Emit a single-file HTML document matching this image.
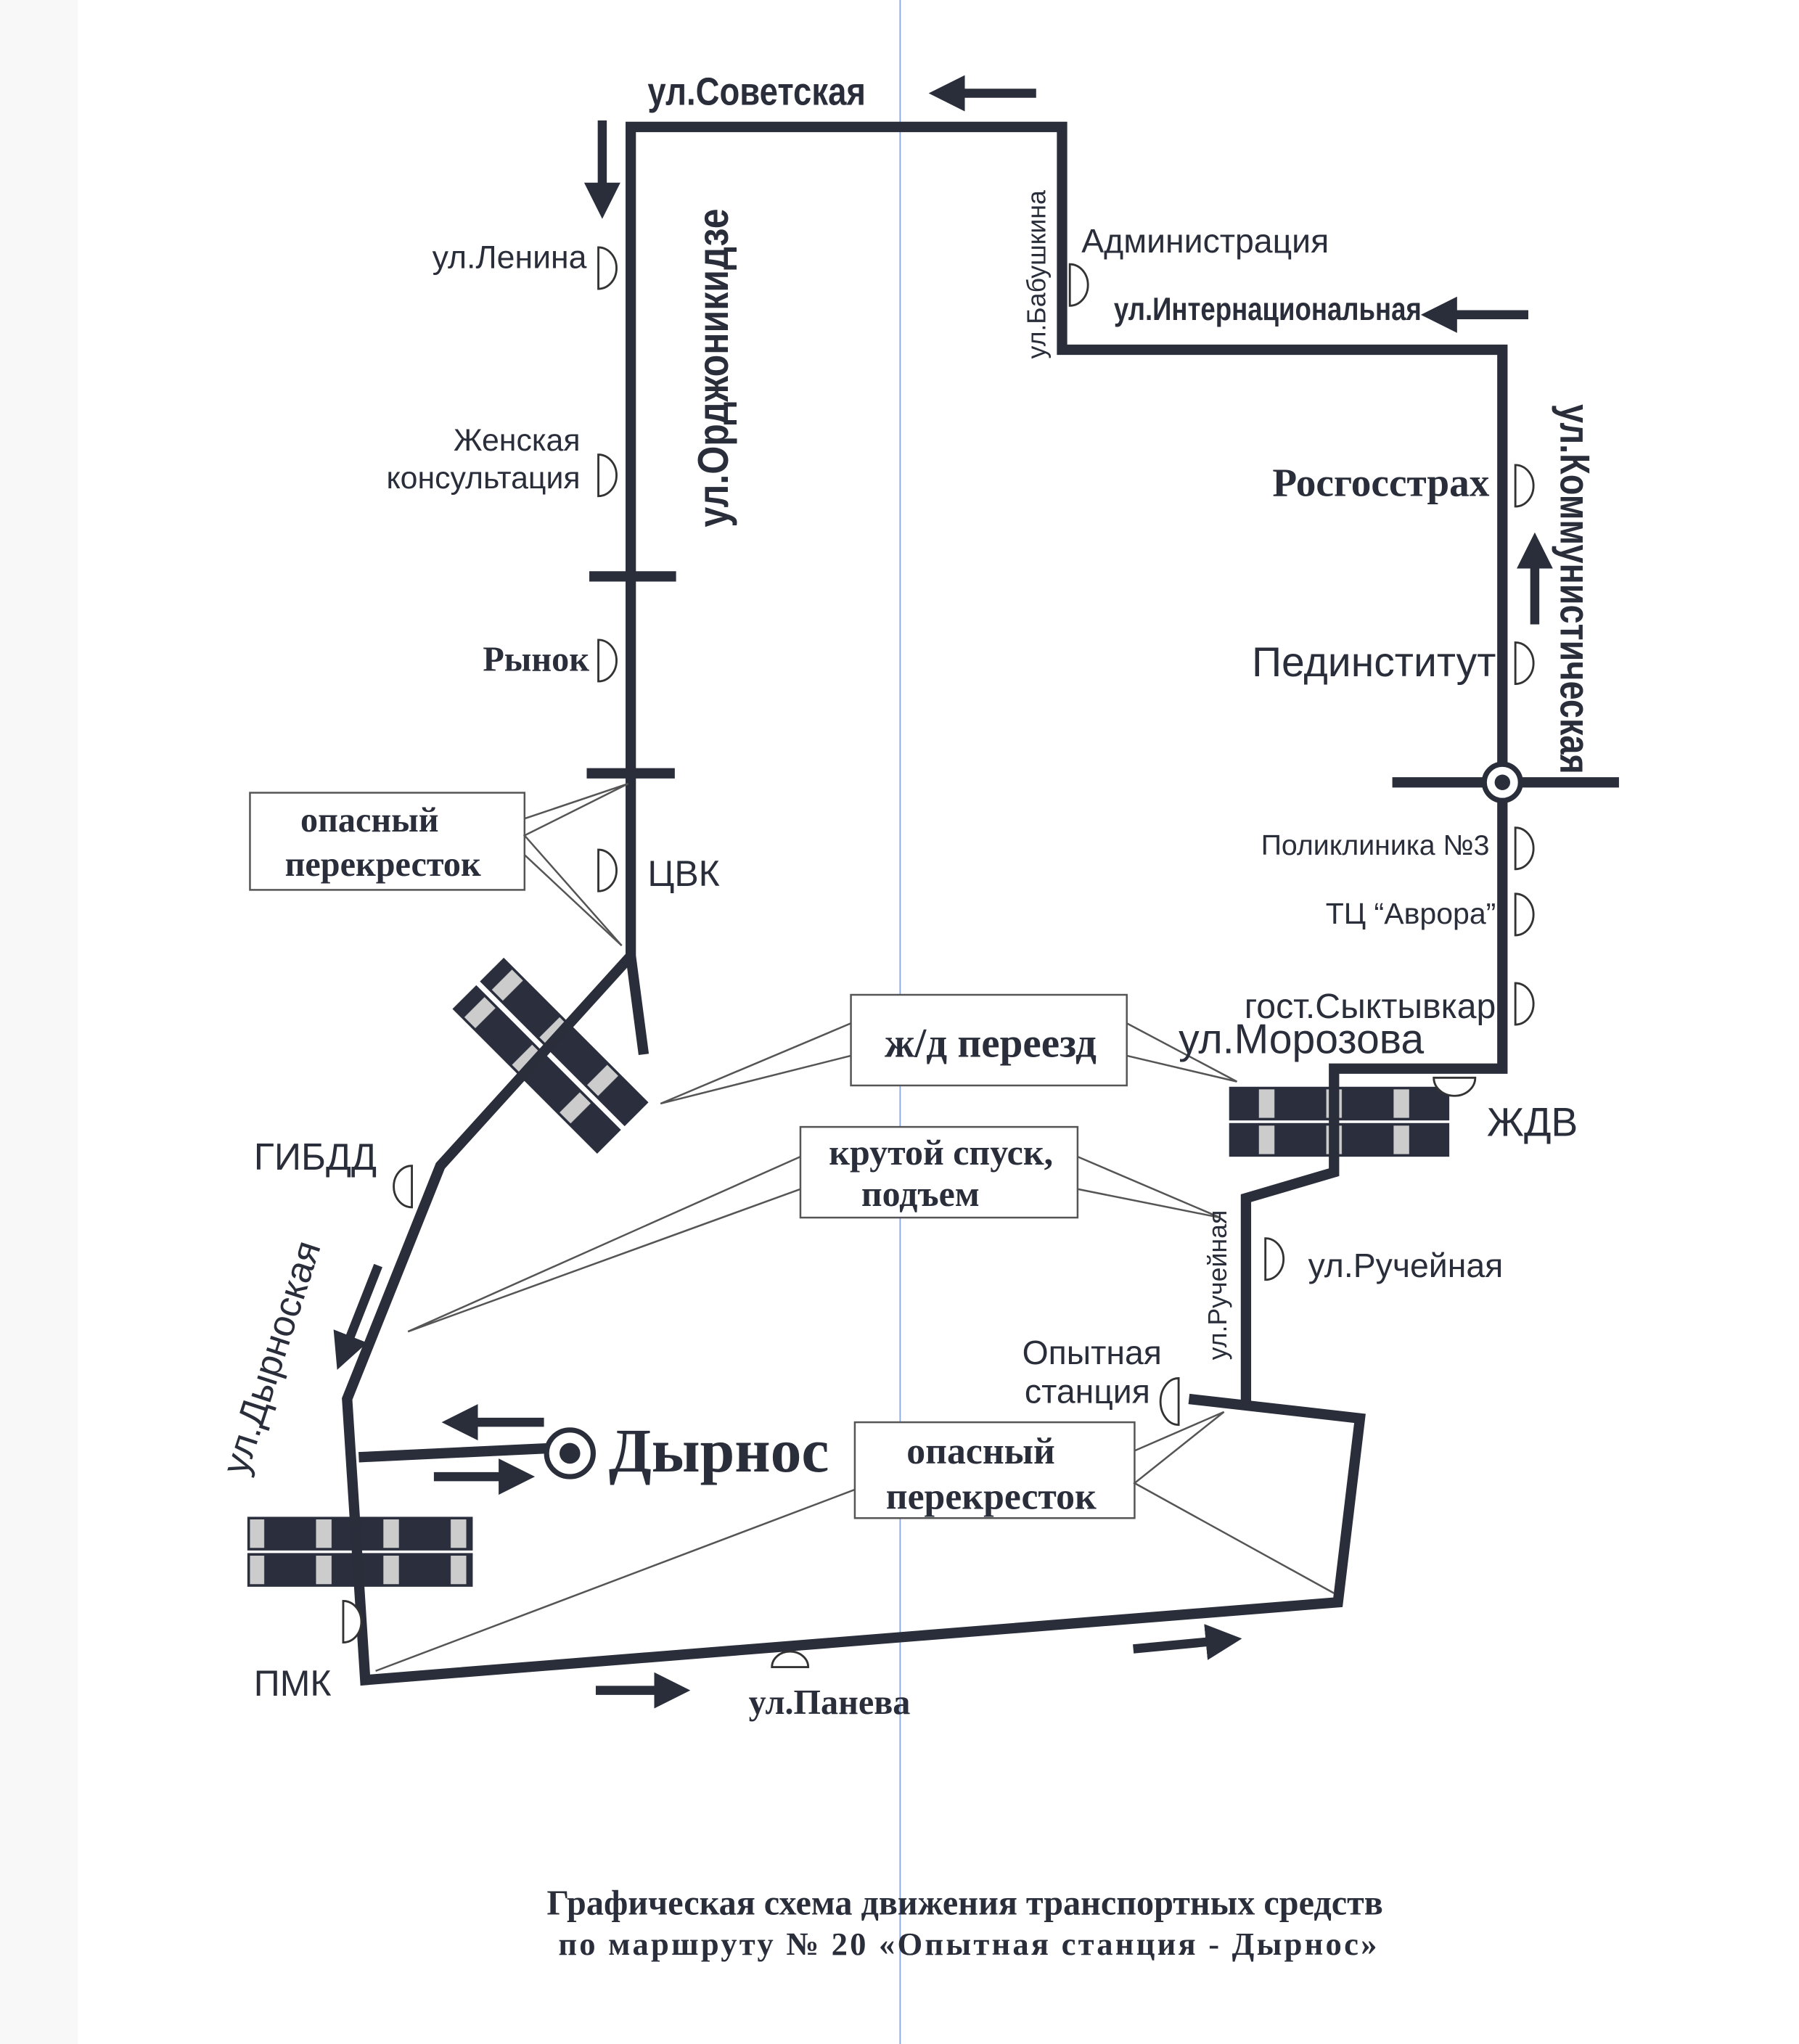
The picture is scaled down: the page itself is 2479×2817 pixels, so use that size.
<!DOCTYPE html>
<html><head><meta charset="utf-8"><style>
html,body{margin:0;padding:0;background:#fff;}
svg{display:block;}
.s{font-family:"Liberation Sans",sans-serif;fill:#2a2e3a;}
.r{font-family:"Liberation Serif",serif;fill:#2a2e3a;font-weight:bold;}
</style></head><body>
<svg width="2479" height="2817" viewBox="0 0 1389 1578" preserveAspectRatio="none" xmlns="http://www.w3.org/2000/svg">
<defs>
<pattern id="chk" width="52" height="24" patternUnits="userSpaceOnUse">
<rect width="52" height="24" fill="#2b2f3d"/><rect x="36" width="12" height="24" fill="#ccc"/>
</pattern>
<marker id="ah" markerWidth="4" markerHeight="4" refX="1" refY="2" orient="auto" markerUnits="strokeWidth">
<path d="M0,0 L4,2 L0,4 Z" fill="#2a2e3a"/></marker>
</defs>
<rect x="0" y="0" width="60" height="1578" fill="#f8f8f8"/>
<line x1="695" y1="0" x2="695" y2="1578" stroke="#8aa4e0" stroke-width="1"/>

<g transform="translate(425,815) rotate(45)">
<rect x="-78" y="-27" width="156" height="24" fill="url(#chk)" stroke="#2b2f3d" stroke-width="2"/>
<rect x="-78" y="3" width="156" height="24" fill="url(#chk)" stroke="#2b2f3d" stroke-width="2"/>
</g>
<rect x="950" y="840" width="168" height="24" fill="url(#chk)" stroke="#2b2f3d" stroke-width="2"/>
<rect x="950" y="868" width="168" height="24" fill="url(#chk)" stroke="#2b2f3d" stroke-width="2"/>
<rect x="192" y="1172" width="172" height="24" fill="url(#chk)" stroke="#2b2f3d" stroke-width="2"/>
<rect x="192" y="1200" width="172" height="24" fill="url(#chk)" stroke="#2b2f3d" stroke-width="2"/>

<g fill="none" stroke="#2a2e3a" stroke-width="8" stroke-linejoin="miter">
<polyline points="497,814 487,738 487,98 820,98 820,270 1160,270 1160,825 1030,825 1030,905 962,925 962,1082"/>
<polyline points="918,1080 1050,1095 1033,1237 282,1297 268,1080 340,900 487,738"/>
<line x1="277" y1="1125" x2="425" y2="1118"/>
<line x1="455" y1="445" x2="522" y2="445"/>
<line x1="453" y1="597" x2="521" y2="597"/>
<line x1="1075" y1="604" x2="1250" y2="604"/>
</g>
<circle cx="1160" cy="604" r="14" fill="#fff" stroke="#2a2e3a" stroke-width="4"/>
<circle cx="1160" cy="604" r="6" fill="#2a2e3a"/>
<circle cx="440" cy="1122" r="18" fill="#fff" stroke="#2a2e3a" stroke-width="4"/>
<circle cx="440" cy="1122" r="8" fill="#2a2e3a"/>

<g stroke="#2a2e3a" stroke-width="7" marker-end="url(#ah)">
<line x1="800" y1="72" x2="738" y2="72"/>
<line x1="465" y1="93" x2="465" y2="148"/>
<line x1="1180" y1="243" x2="1118" y2="243"/>
<line x1="1185" y1="482" x2="1185" y2="432"/>
<line x1="292" y1="977" x2="268" y2="1038"/>
<line x1="420" y1="1098" x2="362" y2="1098"/>
<line x1="335" y1="1140" x2="392" y2="1140"/>
<line x1="460" y1="1305" x2="512" y2="1305"/>
<line x1="875" y1="1273" x2="938" y2="1267"/>
</g>

<g fill="#fff" stroke="#333" stroke-width="1.6">
<path d="M462,191 A14,16 0 0 1 462,223 Z"/>
<path d="M462,351 A14,16 0 0 1 462,383 Z"/>
<path d="M462,494 A14,16 0 0 1 462,526 Z"/>
<path d="M462,656 A14,16 0 0 1 462,688 Z"/>
<path d="M826,204 A14,16 0 0 1 826,236 Z"/>
<path d="M1170,359 A14,16 0 0 1 1170,391 Z"/>
<path d="M1170,496 A14,16 0 0 1 1170,528 Z"/>
<path d="M1170,639 A14,16 0 0 1 1170,671 Z"/>
<path d="M1170,690 A14,16 0 0 1 1170,722 Z"/>
<path d="M1170,759 A14,16 0 0 1 1170,791 Z"/>
<path d="M1107,832 A16,14 0 0 0 1139,832 Z"/>
<path d="M977,956 A14,16 0 0 1 977,988 Z"/>
<path d="M910,1064 A14,18 0 0 0 910,1100 Z"/>
<path d="M318,900 A14,16 0 0 0 318,932 Z"/>
<path d="M265,1236 A14,16 0 0 1 265,1268 Z"/>
<path d="M596,1287 A14,12 0 0 1 624,1287 Z"/>
</g>

<g fill="#fff" stroke="#555" stroke-width="1.4">
<rect x="193" y="612" width="212" height="75"/>
<polyline points="485,605 405,645 480,730" fill="none"/>
<polyline points="405,632 485,605" fill="none"/><polyline points="405,660 480,730" fill="none"/>
<rect x="657" y="768" width="213" height="70"/>
<polyline points="657,790 510,852 657,815" fill="none"/>
<polyline points="870,790 955,835 870,815" fill="none"/>
<rect x="618" y="870" width="214" height="70"/>
<polyline points="618,893 315,1028 618,918" fill="none"/>
<polyline points="832,893 942,940 832,918" fill="none"/>
<rect x="660" y="1098" width="216" height="74"/>
<polyline points="876,1120 945,1090 876,1145 1030,1230" fill="none"/>
<polyline points="660,1150 290,1290" fill="none"/>
</g>

<text class="s" font-size="30" font-weight="bold" transform="translate(500,81) scale(0.85,1)">ул.Советская</text>
<text class="s" font-size="33" font-weight="bold" transform="translate(562,407) rotate(-90) scale(0.85,1)">ул.Орджоникидзе</text>
<text class="s" x="453" y="207" font-size="25" text-anchor="end">ул.Ленина</text>
<text class="s" x="448" y="348" font-size="24" text-anchor="end">Женская</text>
<text class="s" x="448" y="377" font-size="24" text-anchor="end">консультация</text>
<text class="r" x="455" y="518" font-size="27" text-anchor="end">Рынок</text>
<text class="s" x="500" y="684" font-size="28">ЦВК</text>
<text class="r" x="232" y="642" font-size="27">опасный</text>
<text class="r" x="220" y="676" font-size="27">перекресток</text>
<text class="s" font-size="20" transform="translate(807,277) rotate(-90)">ул.Бабушкина</text>
<text class="s" x="835" y="195" font-size="26">Администрация</text>
<text class="s" font-size="25" font-weight="bold" transform="translate(860,247) scale(0.82,1)">ул.Интернациональная</text>
<text class="s" font-size="32" font-weight="bold" transform="translate(1205,312) rotate(90) scale(0.82,1)">ул.Коммунистическая</text>
<text class="r" x="1150" y="383" font-size="31" text-anchor="end">Росгосстрах</text>
<text class="s" x="1155" y="522" font-size="32" text-anchor="end">Пединститут</text>
<text class="s" x="1150" y="660" font-size="22" text-anchor="end">Поликлиника №3</text>
<text class="s" x="1155" y="713" font-size="23" text-anchor="end">ТЦ “Аврора”</text>
<text class="s" x="1155" y="786" font-size="27" text-anchor="end">гост.Сыктывкар</text>
<text class="s" x="910" y="813" font-size="32">ул.Морозова</text>
<text class="r" x="683" y="816" font-size="32" font-weight="normal">ж/д переезд</text>
<text class="s" x="1148" y="877" font-size="31">ЖДВ</text>
<text class="r" x="640" y="899" font-size="28">крутой спуск,</text>
<text class="r" x="665" y="931" font-size="28">подъем</text>
<text class="s" font-size="20" transform="translate(947,1050) rotate(-90)">ул.Ручейная</text>
<text class="s" x="1010" y="986" font-size="26">ул.Ручейная</text>
<text class="s" x="897" y="1053" font-size="26" text-anchor="end">Опытная</text>
<text class="s" x="888" y="1083" font-size="26" text-anchor="end">станция</text>
<text class="r" x="700" y="1130" font-size="29">опасный</text>
<text class="r" x="684" y="1165" font-size="29">перекресток</text>
<text class="s" x="196" y="903" font-size="29">ГИБДД</text>
<text class="s" font-size="29" transform="translate(190,1140) rotate(-72)">ул.Дырноская</text>
<text class="r" x="470" y="1136" font-size="48">Дырнос</text>
<text class="s" x="196" y="1309" font-size="28">ПМК</text>
<text class="r" x="578" y="1323" font-size="27">ул.Панева</text>
<text class="r" x="745" y="1478" font-size="27" text-anchor="middle">Графическая схема движения транспортных средств</text>
<text class="r" x="748" y="1509" font-size="25" text-anchor="middle" letter-spacing="1.8">по маршруту № 20 «Опытная станция - Дырнос»</text>
</svg>
</body></html>
